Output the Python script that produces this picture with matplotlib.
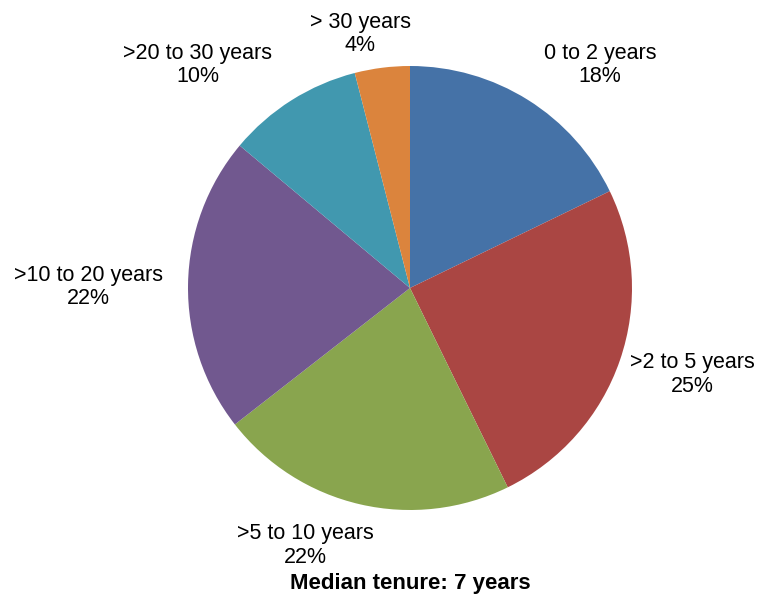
import matplotlib
matplotlib.use("Agg")
from matplotlib import pyplot as plt
import numpy as np

plt.rcParams['font.family'] = ['Liberation Sans', 'DejaVu Sans']

# tenure buckets (clockwise from 12 o'clock)
categories = ["0 to 2 years", ">2 to 5 years", ">5 to 10 years",
              ">10 to 20 years", ">20 to 30 years", "> 30 years"]
shares = [17.8, 24.9, 21.7, 21.6, 9.9, 4.0]
pct_labels = ["18%", "25%", "22%", "22%", "10%", "4%"]
colors = ["#4572A7", "#AA4643", "#89A54E", "#71588F", "#4198AF", "#DB843D"]

# label centres in pie units (radius = 1)
label_pos = [(0.856, 1.005), (1.27, -0.39), (-0.473, -1.16),
             (-1.45, 0.005), (-0.955, 1.005), (-0.225, 1.145)]

fig = plt.figure(figsize=(7.72, 5.98), dpi=100)
ax = fig.add_axes([0, 0, 1, 1])

ax.pie(shares, colors=colors, startangle=90, counterclock=False,
       radius=1, wedgeprops=dict(linewidth=0))

for cat, pct, (x, y) in zip(categories, pct_labels, label_pos):
    ax.text(x, y, f"{cat}\n{pct}", ha="center", va="center",
            fontsize=15.5, linespacing=1.15)

ax.text(0, -1.333, "Median tenure: 7 years", ha="center", va="center",
        fontsize=16, fontweight="bold")

# center (410,288) px, radius 222 px
ax.set_xlim(-410 / 222, (772 - 410) / 222)
ax.set_ylim(-310 / 222, 288 / 222)
ax.set_aspect("auto")
ax.axis("off")

fig.savefig("out.png", dpi=100)
